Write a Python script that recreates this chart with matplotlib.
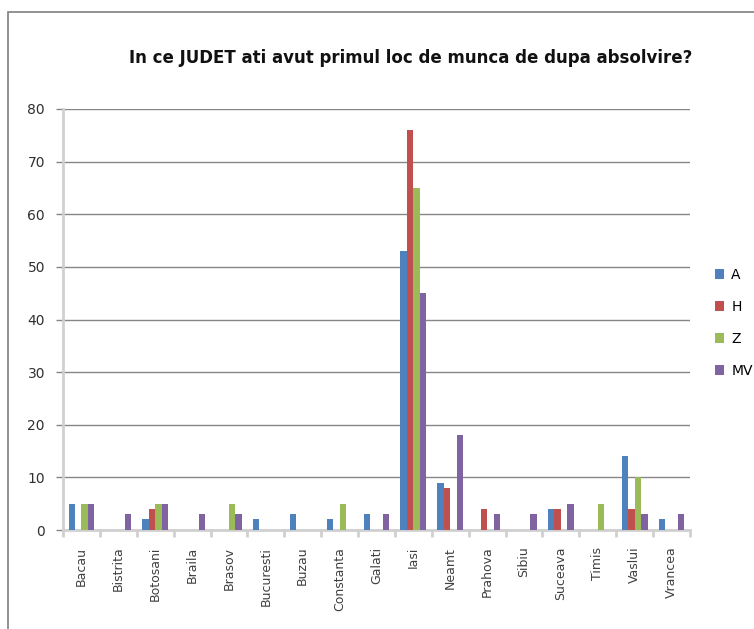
import numpy as np
import matplotlib.pyplot as plt
from matplotlib.patches import Rectangle

# Data
judete = ["Bacau", "Bistrita", "Botosani", "Braila", "Brasov", "Bucuresti", "Buzau",
          "Constanta", "Galati", "Iasi", "Neamt", "Prahova", "Sibiu", "Suceava",
          "Timis", "Vaslui", "Vrancea"]
A = [5, 0, 2, 0, 0, 2, 3, 2, 3, 53, 9, 0, 0, 4, 0, 14, 2]
H = [0, 0, 4, 0, 0, 0, 0, 0, 0, 76, 8, 4, 0, 4, 0, 4, 0]
Z = [5, 0, 5, 0, 5, 0, 0, 5, 0, 65, 0, 0, 0, 0, 5, 10, 0]
MV = [5, 3, 5, 3, 3, 0, 0, 0, 3, 45, 18, 3, 3, 5, 0, 3, 3]

series = [("A", A, "#4F81BD"), ("H", H, "#C0504D"), ("Z", Z, "#9BBB59"), ("MV", MV, "#8064A2")]

fig = plt.figure(figsize=(7.54, 6.29), dpi=100)
W, Hpx = 754, 629
ax = fig.add_axes([63 / W, 1 - 530 / Hpx, (690 - 63) / W, (530 - 109) / Hpx])

# outer frame
fig.patches.append(Rectangle((8 / W, -0.05), 1.2, 1 - 12 / Hpx + 0.05, transform=fig.transFigure,
                             fill=False, edgecolor="#7f7f7f", linewidth=1.2))

x = np.arange(len(judete))
w = 0.175
for i, (name, vals, col) in enumerate(series):
    ax.bar(x + (i - 1.5) * w, vals, width=w, color=col, label=name, zorder=3)

ax.set_xlim(-0.5, len(judete) - 0.5)
ax.set_ylim(0, 80)
ax.set_yticks(range(0, 81, 10))
ax.yaxis.grid(True, color="#868686", linewidth=1.0, zorder=0)
ax.set_axisbelow(True)
for s in ["top", "right"]:
    ax.spines[s].set_visible(False)
ax.spines["left"].set_color("#d0d0d0")
ax.spines["left"].set_linewidth(2)
ax.spines["bottom"].set_color("#d0d0d0")
ax.spines["bottom"].set_linewidth(2)

ax.set_xticks(np.arange(len(judete) + 1) - 0.5, minor=True)
ax.set_xticks(x)
ax.set_xticklabels(judete, rotation=90, fontsize=9, color="#404040", fontfamily="DejaVu Sans")
ax.tick_params(axis="x", which="major", length=0, pad=12)
ax.tick_params(axis="x", which="minor", length=5, color="#d0d0d0", width=2)
ax.tick_params(axis="y", length=5, color="#868686", width=1.0, labelsize=10, labelcolor="#303030", pad=8)

fig.text(0.545, 1 - 58 / Hpx, "In ce JUDET ati avut primul loc de munca de dupa absolvire?",
         ha="center", va="center", fontsize=12, fontweight="bold", color="#111111")

ax.legend(loc="center left", bbox_to_anchor=(702 / W, 1 - 323 / Hpx), bbox_transform=fig.transFigure,
          frameon=False, fontsize=10, handlelength=0.7, handleheight=0.7, labelspacing=1.3,
          handletextpad=0.5)

fig.savefig("out.png", dpi=100)
